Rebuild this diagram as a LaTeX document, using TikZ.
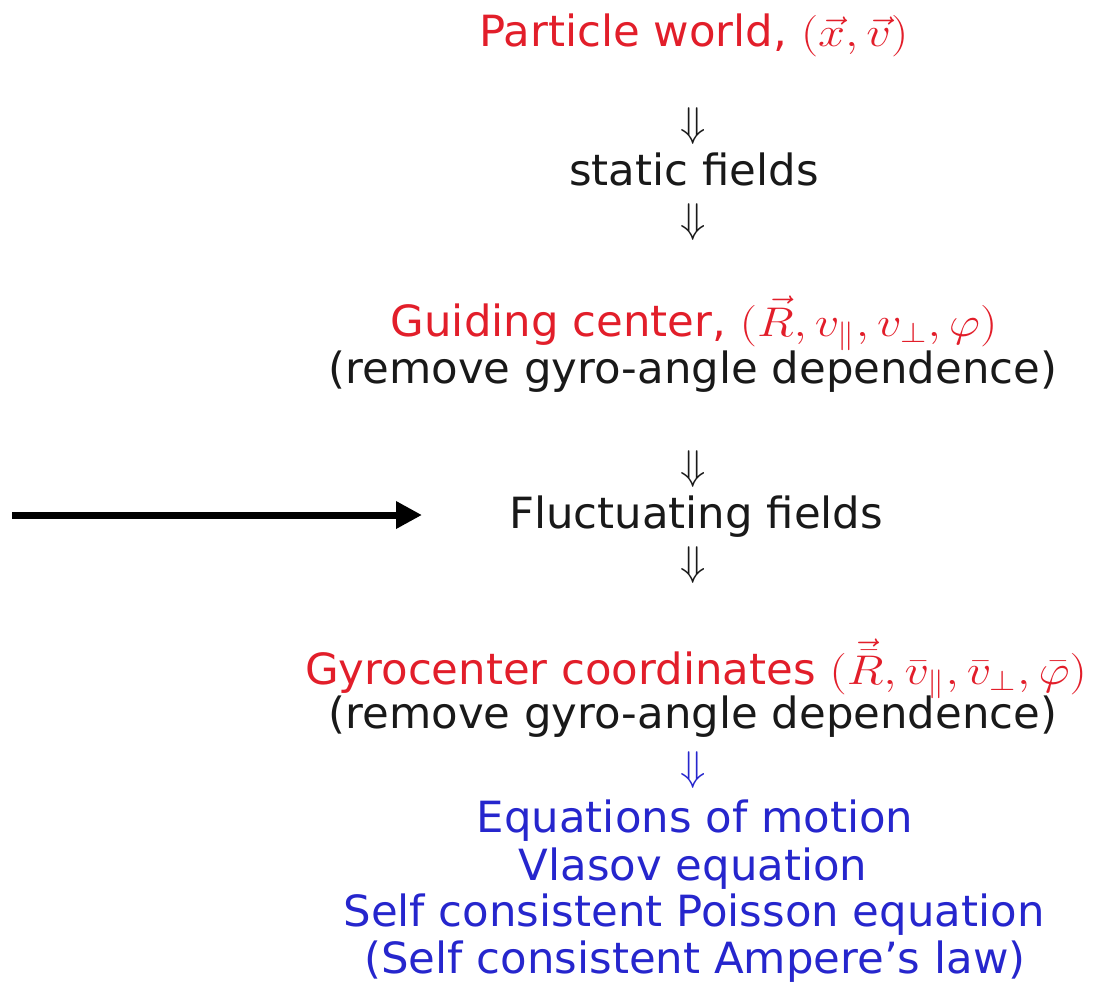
\documentclass[tikz,border=0pt]{standalone}
\usepackage{graphicx}
\usepackage[no-math]{fontspec}
\setmainfont{DejaVu Sans}[FakeStretch=1.01]
\usetikzlibrary{arrows.meta}
\definecolor{myred}{RGB}{226,30,42}
\definecolor{myblue}{RGB}{38,38,205}
\definecolor{mytext}{RGB}{25,25,25}
\newcommand{\wm}[1]{\scalebox{1.17}[1]{$#1$}}
\begin{document}
\begin{tikzpicture}[x=0.5pt,y=-0.5pt,
  txt/.style={inner sep=0pt, anchor=base, font=\fontsize{21.5}{26}\selectfont, text=mytext},
  redtxt/.style={txt, text=myred},
  bluetxt/.style={txt, text=myblue},
  darr/.style={inner sep=0pt, font=\fontsize{21}{25}\selectfont, text=mytext},
  bigarrow/.style={line width=3.5pt, -{Triangle[length=13pt,width=13pt]}}]
\useasboundingbox (0,0) rectangle (1093,987);
\node[redtxt] (pw) at (694,46) {Particle world, \wm{(\vec{x},\vec{v})}};
\node[darr] (d1) at (693,126) {$\Downarrow$};
\node[txt] (sf) at (694,185) {static fields};
\node[darr] (d2) at (693,222) {$\Downarrow$};
\node[redtxt] (gc) at (694,336) {Guiding center, \wm{(\vec{R},v_{\parallel},v_{\perp},\varphi)}};
\node[txt] (r1) at (693,383) {(remove gyro-angle dependence)};
\node[darr] (d3) at (693,469) {$\Downarrow$};
\node[txt] (ff) at (696,528) {Fluctuating fields};
\node[darr] (d4) at (693,565) {$\Downarrow$};
\node[redtxt] (gy) at (696,684) {Gyrocenter coordinates \wm{(\vec{\bar{R}},\bar{v}_{\parallel},\bar{v}_{\perp},\bar{\varphi})}};
\node[txt] (r2) at (693,728) {(remove gyro-angle dependence)};
\node[darr, text=myblue] (d5) at (693,770) {$\Downarrow$};
\node[bluetxt] (e1) at (695,832) {Equations of motion};
\node[bluetxt] (e2) at (693,880) {Vlasov equation};
\node[bluetxt] (e3) at (694,926) {Self consistent Poisson equation};
\node[bluetxt] (e4) at (695,973) {(Self consistent Ampere's law)};
\coordinate (a0) at (12,515);
\coordinate (a1) at (422,515);
\draw[bigarrow] (a0) -- (a1);
\end{tikzpicture}
\end{document}
